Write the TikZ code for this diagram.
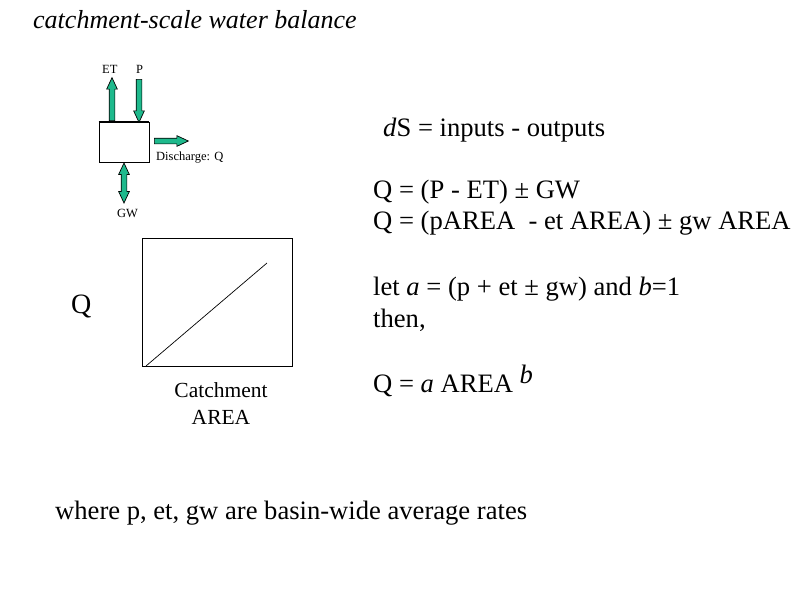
\documentclass[tikz,border=0pt]{standalone}
\usepackage{fontspec}
\setmainfont{Liberation Serif}
\usetikzlibrary{shapes.arrows}

\definecolor{flowgreen}{RGB}{30,185,140}

\tikzset{
	flowarrow/.style={single arrow, draw=black, line width=0.7pt, fill=flowgreen, inner sep=2.5pt,
		minimum width=10pt, single arrow head extend=2.5pt, single arrow tip angle=50},
	gwarrow/.style={double arrow, draw=black, line width=0.7pt, fill=flowgreen, inner sep=2.5pt,
		minimum width=10pt, double arrow head extend=2.5pt, double arrow tip angle=50},
	smalllabel/.style={font=\fontsize{12.5}{15}\selectfont, inner sep=0pt, anchor=base west},
	bigtext/.style={font=\fontsize{26.6}{31}\selectfont, inner sep=0pt, anchor=base west},
}

\begin{document}
\begin{tikzpicture}[x=1pt, y=-1pt]

	\useasboundingbox (0,0) rectangle (800,600);

	%title
	\node[bigtext, font=\fontsize{26}{30}\selectfont\itshape] (title) at (33,28) {catchment-scale water balance};

	%storage box with fluxes
	\node[draw, line width=0.8pt, minimum width=50pt, minimum height=40pt] (store) at (124,142) {};
	\draw[line width=2pt] (store.north west) -- (store.north east);
	\node[flowarrow, rotate=90, anchor=tail, minimum height=43pt] (et) at (112,121) {};
	\node[flowarrow, rotate=-90, anchor=tail, minimum height=43pt] (p) at (139,79) {};
	\node[flowarrow, anchor=tail, minimum height=34pt] (discharge) at (154,141) {};
	\node[gwarrow, rotate=90, minimum height=40pt] (gw) at (124,183) {};
	\node[smalllabel] (etlabel) at (102,73) {ET};
	\node[smalllabel] (plabel) at (136,73) {P};
	\node[smalllabel] (qlabel) at (156,160) {Discharge: Q};
	\node[smalllabel] (gwlabel) at (117,217) {GW};

	%Q vs AREA plot
	\node[draw, line width=0.8pt, minimum width=150pt, minimum height=128pt] (plot) at (217,302) {};
	\coordinate (origin) at (146,366);
	\coordinate (lineend) at (267,263);
	\draw[line width=0.7pt] (origin) -- (lineend);
	\node[bigtext, font=\fontsize{28}{33}\selectfont] (yaxis) at (71,313) {Q};
	\node[font=\fontsize{21.5}{27}\selectfont, align=center, inner sep=0pt, anchor=north] (xaxis) at (221,382) {Catchment\\AREA};

	%balance equations
	\node[bigtext] (ds) at (383,136) {\textit{d}S = inputs - outputs};
	\node[bigtext] (eq1) at (373,198) {Q = (P - ET) ± GW};
	\node[bigtext] (eq2) at (373,229) {Q = (pAREA \ - et AREA) ± gw AREA};
	\node[bigtext] (let) at (373,295) {let \textit{a} = (p + et ± gw) and \textit{b}=1};
	\node[bigtext] (then) at (373,327) {then,};
	\node[bigtext] (power) at (373,392) {Q = \textit{a} AREA \raisebox{9pt}{\textit{b}}};
	\node[bigtext] (note) at (55,519) {where p, et, gw are basin-wide average rates};

\end{tikzpicture}
\end{document}
